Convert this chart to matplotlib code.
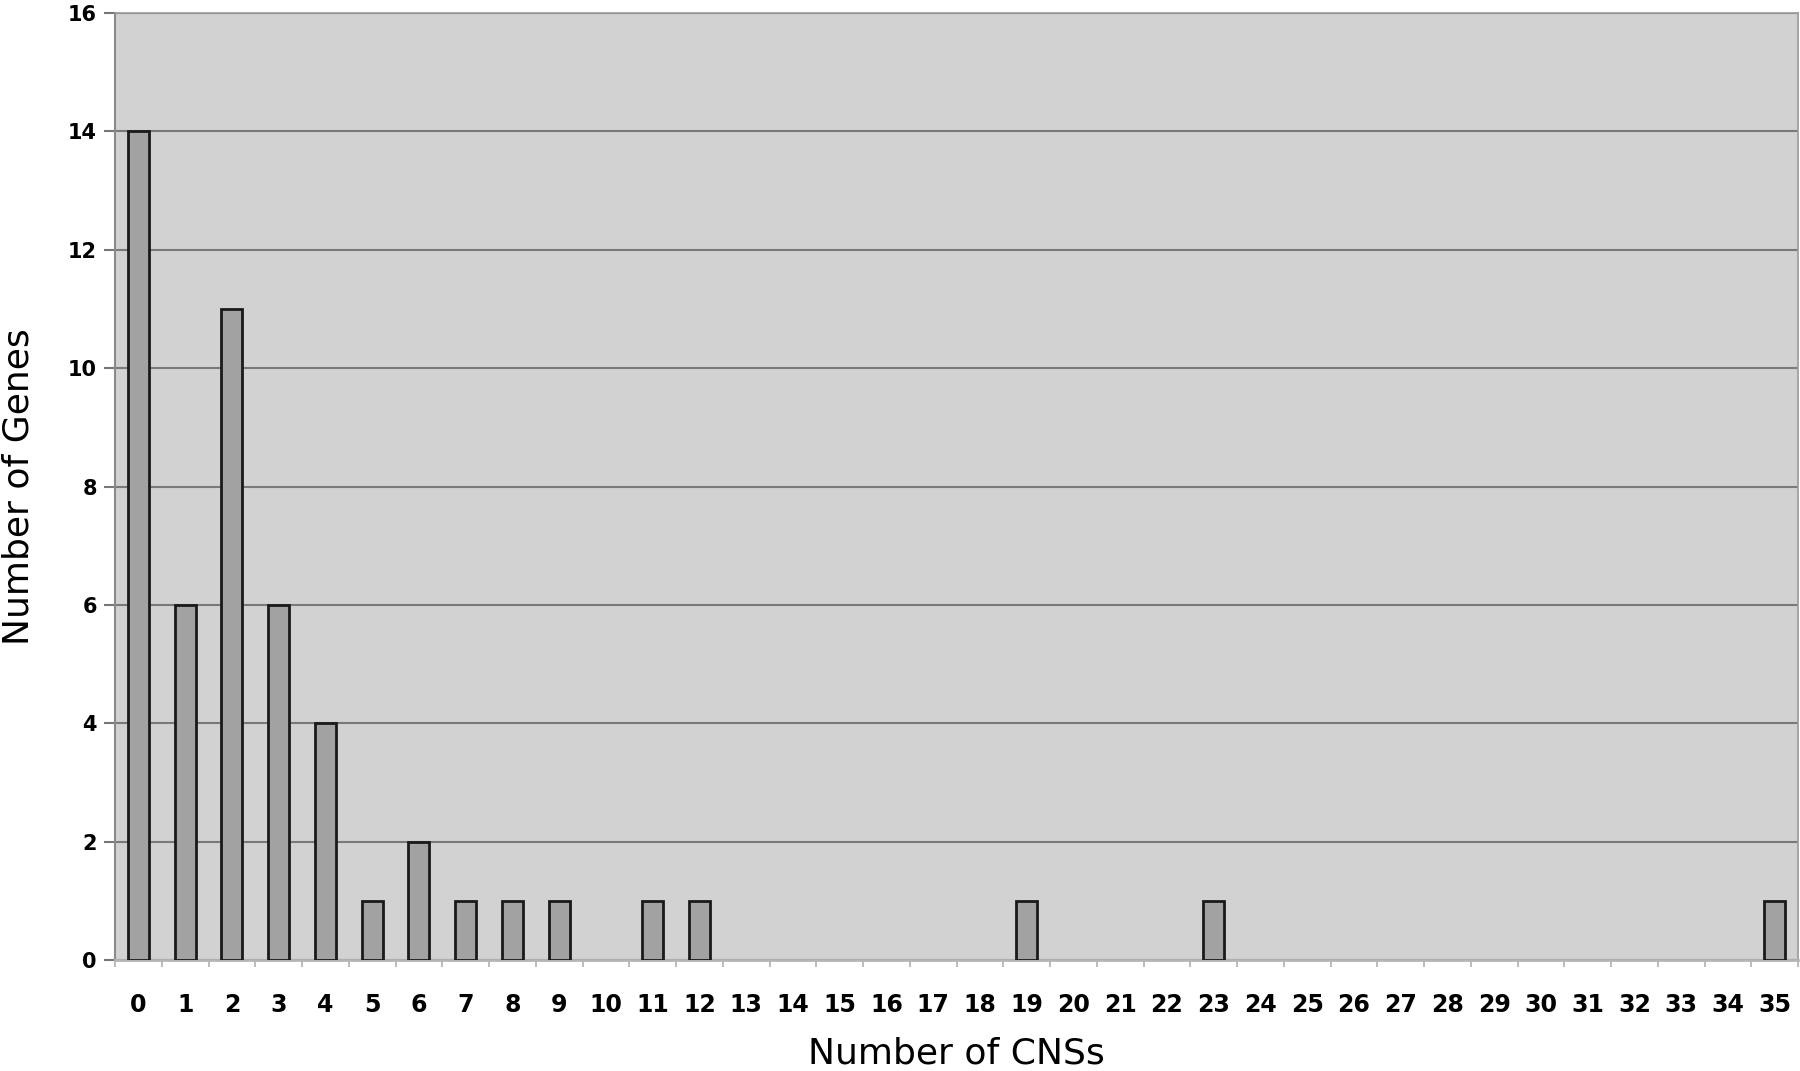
import matplotlib
matplotlib.use("Agg")
import matplotlib.pyplot as plt
import numpy as np

cns_counts = list(range(36))
gene_counts = [14, 6, 11, 6, 4, 1, 2, 1, 1, 1, 0, 1, 1, 0, 0, 0, 0, 0, 0, 1,
               0, 0, 0, 1, 0, 0, 0, 0, 0, 0, 0, 0, 0, 0, 0, 1]
y_ticks = [0, 2, 4, 6, 8, 10, 12, 14, 16]

plt.rcParams['font.family'] = ['DejaVu Sans']
fig = plt.figure(figsize=(18, 10.71), dpi=100)
ax = fig.add_axes([0.0639, 0.1036, 0.935, 0.8843])
ax.set_facecolor('#d2d2d2')

x = np.arange(len(cns_counts))
vals = np.array(gene_counts)
mask = vals > 0
ax.bar(x[mask], vals[mask], width=0.45, color='#a2a2a2', edgecolor='#1a1a1a', linewidth=2, zorder=3)

ax.set_xlim(-0.5, len(cns_counts) - 0.5)
ax.set_ylim(0, 16)
ax.set_yticks(y_ticks)
ax.set_yticklabels([str(v) for v in y_ticks], fontsize=15, fontweight='bold')
ax.set_xticks(x)
ax.set_xticklabels([str(c) for c in cns_counts], fontsize=17, fontweight='bold')
ax.set_xticks(np.arange(-0.5, len(cns_counts), 1), minor=True)
ax.tick_params(axis='x', which='major', length=0, pad=24)
ax.tick_params(axis='x', which='minor', length=5, color='#b0b0b0', width=1.2)
ax.tick_params(axis='y', which='major', length=8, color='#777777', width=1.5, pad=5)

ax.yaxis.grid(True, color='#7a7a7a', linewidth=1.5, zorder=1)
ax.set_axisbelow(True)
for side in ['top', 'right']:
    ax.spines[side].set_color('#9a9a9a')
    ax.spines[side].set_linewidth(1.2)
ax.spines['left'].set_color('#8a8a8a')
ax.spines['left'].set_linewidth(1.5)
ax.spines['bottom'].set_color('#b5b5b5')
ax.spines['bottom'].set_linewidth(2)

ax.set_xlabel('Number of CNSs', fontsize=26, labelpad=14)
ax.set_ylabel('Number of Genes', fontsize=26)
ax.yaxis.set_label_coords(-0.047, 0.5)

fig.savefig('out.png', dpi=100, facecolor='white')
